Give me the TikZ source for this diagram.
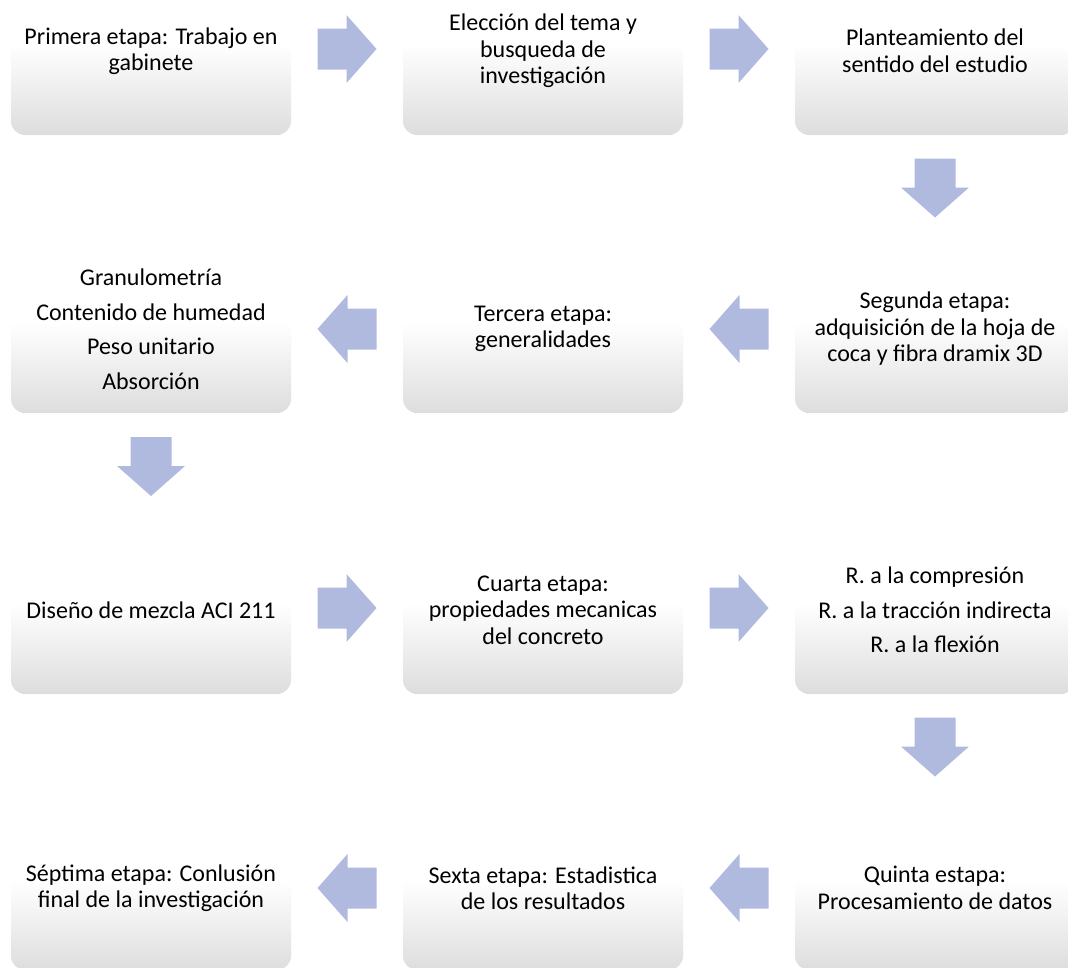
\documentclass[tikz,border=0pt]{standalone}
\usepackage{fontspec}
\setmainfont{Carlito}
\usetikzlibrary{calc}
\definecolor{boxgray}{RGB}{221,221,221}
\definecolor{arrowblue}{RGB}{176,186,223}
\pgfdeclareverticalshading{boxshade}{100bp}{color(0bp)=(boxgray); color(25bp)=(boxgray); color(52bp)=(white); color(100bp)=(white)}
\tikzset{
  stagebox/.style={rounded corners=14pt, shading=boxshade, minimum width=280pt, minimum height=168pt, inner sep=0pt, align=center, font=\fontsize{24}{26.5}\selectfont, text=black},
  blockarr/.pic={\fill[arrowblue] (-29.5,-20.5) -- (-0.5,-20.5) -- (-0.5,-34) -- (29.5,0) -- (-0.5,34) -- (-0.5,20.5) -- (-29.5,20.5) -- cycle;}
}
\begin{document}
\begin{tikzpicture}[x=1pt,y=-1pt]
\useasboundingbox (0,0) rectangle (1068,967);
\clip (0,0) rectangle (1068,967);
% row 1
\node[stagebox] (b1) at (151,51) {Primera etapa: Trabajo en\\gabinete};
\node[stagebox] (b2) at (543,51) {Elección del tema y\\busqueda de\\investigación};
\node[stagebox] (b3) at (935,51) {Planteamiento del\\sentido del estudio};
% row 2
\node[stagebox] (b4) at (935,329) {Segunda etapa:\\adquisición de la hoja de\\coca y fibra dramix 3D};
\node[stagebox] (b5) at (543,329) {Tercera etapa:\\generalidades};
\node[stagebox] (b6) at (151,329) {Granulometría\\[8pt]Contenido de humedad\\[8pt]Peso unitario\\[8pt]Absorción};
% row 3
\node[stagebox] (b7) at (151,610) {Diseño de mezcla ACI 211};
\node[stagebox] (b8) at (543,610) {Cuarta etapa:\\propiedades mecanicas\\del concreto};
\node[stagebox] (b9) at (935,610) {R. a la compresión\\[8pt]R. a la tracción indirecta\\[8pt]R. a la flexión};
% row 4
\node[stagebox, minimum height=164pt] (b10) at (935,888) {Quinta estapa:\\Procesamiento de datos};
\node[stagebox, minimum height=164pt] (b11) at (543,888) {Sexta etapa: Estadistica\\de los resultados};
\node[stagebox, minimum height=164pt] (b12) at (151,888) {Séptima etapa: Conlusión\\final de la investigación};
% arrows
\path ($(b1.east)!0.5!(b2.west)+(0,-2)$) pic {blockarr};
\path ($(b2.east)!0.5!(b3.west)+(0,-2)$) pic {blockarr};
\path ($(b3.south)!0.5!(b4.north)+(0,-2)$) pic[rotate=-90] {blockarr};
\path ($(b4.west)!0.5!(b5.east)$) pic[rotate=180] {blockarr};
\path ($(b5.west)!0.5!(b6.east)$) pic[rotate=180] {blockarr};
\path ($(b6.south)!0.5!(b7.north)+(0,-3)$) pic[rotate=-90] {blockarr};
\path ($(b7.east)!0.5!(b8.west)+(0,-2)$) pic {blockarr};
\path ($(b8.east)!0.5!(b9.west)+(0,-2)$) pic {blockarr};
\path ($(b9.south)!0.5!(b10.north)+(0,-3)$) pic[rotate=-90] {blockarr};
\path ($(b10.west)!0.5!(b11.east)$) pic[rotate=180] {blockarr};
\path ($(b11.west)!0.5!(b12.east)$) pic[rotate=180] {blockarr};
\end{tikzpicture}
\end{document}
